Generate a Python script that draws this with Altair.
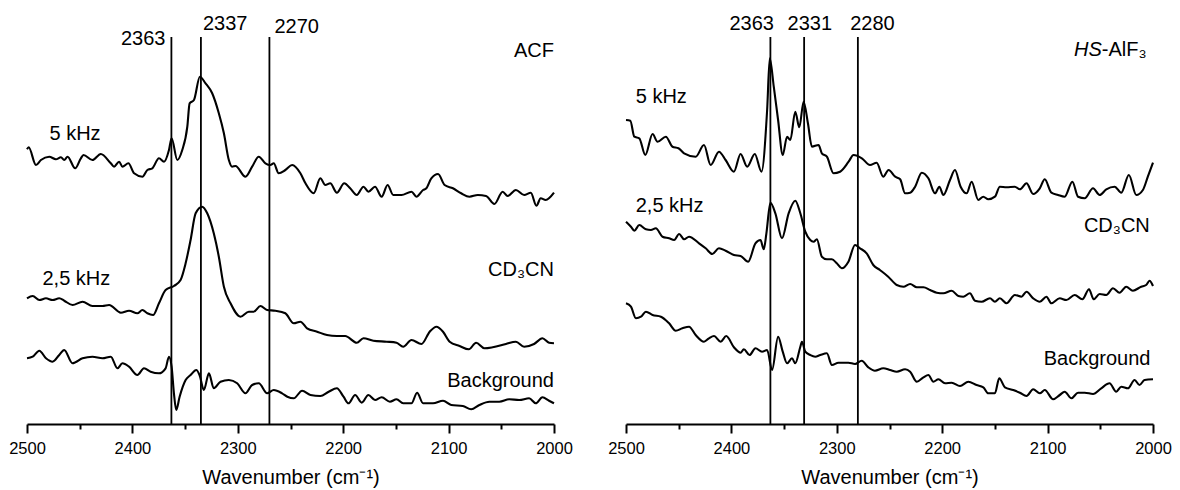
import altair as alt
import pandas as pd

FONT = "Liberation Sans"

# ---- data: (wavenumber cm-1, offset intensity a.u.) ----
ACF_5KHZ = [
    (2500, 274.7), (2498.4, 276.7), (2491.5, 259), (2486.8, 264), (2478.9, 267.3), (2472.6, 264.7),
    (2467.8, 266.7), (2464.7, 264), (2461.5, 267.3), (2454.3, 255.7), (2448.9, 265.7), (2446.4, 269),
    (2437.9, 264), (2430, 270), (2420.5, 260.7), (2417.4, 257.3), (2412.6, 262.3), (2409.5, 257.3),
    (2403.8, 260.7), (2398.4, 250.7), (2390.5, 247.3), (2385.8, 254), (2381.1, 255.7), (2374.8, 265.7),
    (2370, 262.3), (2365.3, 274), (2362.8, 285.7), (2357.4, 264), (2352.7, 274), (2347.9, 297.3),
    (2345.7, 320.7), (2341.6, 324), (2336, 347.3), (2330.6, 340.7), (2324.3, 330.7), (2318, 310.7),
    (2313.2, 290.7), (2308.5, 264), (2305.4, 257.3), (2302.2, 258), (2292.7, 247.3), (2286.4, 257.3),
    (2280.1, 267.3), (2273.8, 260.7), (2269.1, 259), (2265.9, 260.7), (2261.2, 250.7), (2254.9, 254),
    (2248.4, 259), (2240.6, 250.7), (2235.8, 240.7), (2228, 230.7), (2221.7, 245.7), (2217, 239),
    (2212.3, 240.7), (2206, 231.3), (2199, 240.7), (2193.4, 235.7), (2187.1, 229), (2180.8, 237.3),
    (2176.1, 232.3), (2169.8, 237.3), (2163.5, 227.3), (2157.9, 239), (2152.5, 229), (2144.7, 229),
    (2135.2, 232.3), (2130.5, 227.3), (2124.2, 234), (2121.1, 235.7), (2116.4, 245.7), (2110, 250),
    (2103.8, 239), (2095.9, 235.7), (2088.1, 230.7), (2080.2, 227.3), (2072.3, 229), (2064.5, 228),
    (2056.6, 220), (2048.7, 232.3), (2044, 228), (2036.2, 234), (2028.3, 229), (2022, 231.3),
    (2016.7, 218.3), (2012.6, 225.7), (2007.9, 224), (2000, 231.3),
]
ACF_25KHZ = [
    (2500, 125.7), (2494.6, 128), (2488.3, 124), (2482, 125.7), (2475.7, 124), (2469.4, 125.7),
    (2464.7, 123.3), (2456.8, 119), (2447.3, 122.3), (2437.9, 118), (2428.4, 118), (2422.1, 119),
    (2411, 111.3), (2403.2, 113.3), (2395.3, 110.7), (2390.5, 114), (2385.8, 110.7), (2380.4, 109),
    (2374.8, 120.7), (2368.5, 134), (2360.6, 138), (2354.3, 144), (2349.5, 160.7), (2344.8, 184),
    (2340, 210.7), (2333.8, 217.3), (2329, 210.7), (2322.8, 190.7), (2318, 167.3), (2313.2, 137.3),
    (2306.9, 120.7), (2297.5, 107.3), (2289.6, 112.3), (2284.9, 112.3), (2278.5, 118), (2272.2, 114),
    (2264.4, 113.3), (2254.9, 110.7), (2246.9, 100.7), (2240.6, 102.3), (2234.3, 95.7), (2224.8, 92.3),
    (2215.4, 89), (2206, 88), (2198.1, 88), (2187.1, 81.3), (2180.8, 85.7), (2171.4, 83.3),
    (2158.8, 82.3), (2149.4, 81.3), (2143.1, 77.3), (2135.2, 84), (2125.8, 80), (2117.9, 92.3),
    (2111.6, 97.3), (2105.3, 92.3), (2099, 82.3), (2089.6, 78), (2080.8, 74.7), (2073.9, 81.3),
    (2066, 75.7), (2058.2, 76.7), (2045.6, 80), (2036.2, 82.3), (2028.3, 77.3), (2018.9, 80),
    (2011, 85.7), (2004.7, 81.3), (2000, 80.7),
]
ACF_BG = [
    (2500, 65.7), (2494.6, 67.3), (2488.3, 73.3), (2482, 65.7), (2475.7, 62.3), (2469.4, 69),
    (2464.7, 74), (2456.8, 60.7), (2447.3, 65.7), (2437.9, 67.3), (2428.4, 65.7), (2420.5, 67.3),
    (2414.2, 55.7), (2409.5, 60.7), (2403.2, 57.3), (2395.3, 49), (2389, 55.7), (2382.7, 52.3),
    (2374.8, 50.7), (2368.5, 55.7), (2365.3, 67.3), (2362.8, 57.3), (2360.6, 30.7), (2358.4, 14),
    (2355.2, 27.3), (2349.5, 44), (2344.8, 49), (2339.4, 54), (2336.3, 49), (2332.2, 34),
    (2327.4, 50.7), (2322.8, 35.7), (2316.4, 42.3), (2308.5, 44), (2300.6, 40.7), (2292.7, 30.7),
    (2286.4, 39), (2280.1, 40.7), (2272.2, 30.7), (2265.9, 34), (2258, 30.7), (2253, 27.3),
    (2246.9, 25.7), (2239, 33.3), (2231.1, 29), (2221.7, 28), (2213.8, 32.3), (2206, 35.7),
    (2199.7, 27.3), (2195, 20.7), (2188.7, 29), (2182.4, 21.3), (2176.1, 29), (2169.8, 24),
    (2163.5, 26.7), (2155.7, 22.3), (2149.4, 24.7), (2143.1, 20.7), (2135.2, 20.7), (2129.9, 31.3),
    (2124.2, 20.7), (2114.8, 20.7), (2105.3, 23.3), (2097.5, 19), (2086.5, 18), (2078.6, 14.7),
    (2070.8, 19), (2061.3, 22.3), (2051.9, 22.3), (2042.5, 24.7), (2033, 24), (2023.6, 25.7),
    (2017.3, 20.7), (2011, 26.7), (2004.7, 23.3), (2000, 20.7),
]
HS_5KHZ = [
    (2500, 304), (2495.9, 303.3), (2492.1, 287.3), (2487.4, 285.7), (2481.7, 269), (2474.8, 290),
    (2470.1, 282.3), (2462.2, 287.3), (2455.9, 277.3), (2450.2, 275.7), (2444.9, 270.7), (2433.9, 267.3),
    (2426, 279), (2419.7, 259), (2411.8, 272.3), (2405.5, 264), (2397.6, 252.3), (2391.3, 270),
    (2385, 257.3), (2377.8, 270), (2371.5, 252.3), (2366.1, 314), (2363.6, 365.7), (2359.8, 337.3),
    (2355.7, 304), (2351.3, 269), (2347.2, 287.3), (2344.1, 284), (2339.4, 312.3), (2335.6, 296.7),
    (2331.5, 322.3), (2327.4, 300.7), (2323.6, 277.3), (2317.3, 279), (2314.2, 270.7), (2309.4, 267.3),
    (2303.1, 250.7), (2296.9, 252.3), (2288.8, 262.3), (2284.1, 269), (2276.2, 265.7), (2268.5, 259),
    (2262.2, 261.3), (2255.9, 247.3), (2250.9, 254), (2244.6, 247.3), (2239.9, 244.7), (2235.2, 230.7),
    (2230.4, 231.3), (2225.7, 237.3), (2219.4, 251.3), (2213.1, 245.7), (2206.8, 230.7), (2202.7, 237.3),
    (2198.9, 229), (2192.6, 244), (2187.9, 254), (2182.5, 237.3), (2176.8, 230.7), (2172.1, 242.3),
    (2165.8, 224), (2161, 227.3), (2156.3, 224.7), (2150, 227.3), (2145.3, 237.3), (2139, 236.7),
    (2131.1, 237.3), (2126.3, 234.7), (2120, 240.7), (2113.7, 230), (2107.4, 235.7), (2102.7, 244.7),
    (2096.4, 231.3), (2090.1, 229), (2083.8, 227.3), (2076.5, 242.3), (2071.1, 227.3), (2064.8, 225.7),
    (2056.9, 235.7), (2050.6, 229), (2044.3, 234.7), (2036.4, 237.3), (2030.1, 231.3), (2022.9, 249),
    (2015.9, 229), (2009.6, 234), (2004.9, 247.3), (2000, 261.3),
]
HS_25KHZ = [
    (2500, 202.3), (2495.3, 197.3), (2492.1, 193.3), (2487.4, 199), (2481.1, 194.7), (2476.4, 194),
    (2471.7, 195.7), (2465.4, 187.3), (2459.1, 185.7), (2454.3, 184), (2449.6, 190), (2444.9, 184.7),
    (2440.2, 187.3), (2430.7, 180.7), (2424.4, 175.7), (2418.1, 170), (2411.8, 175.7), (2405.5, 173.3),
    (2397.6, 169), (2391.3, 168), (2384.1, 162.3), (2377.2, 180.7), (2372.4, 184), (2369.3, 174.7),
    (2366.8, 190.7), (2363, 221.3), (2358.3, 210.7), (2352, 185.7), (2345.7, 210.7), (2339.4, 223.3),
    (2334.6, 210.7), (2329.9, 192.3), (2325.2, 184), (2322, 182.3), (2318.9, 184.7), (2314.2, 167.3),
    (2309.4, 164.7), (2304.7, 164.7), (2300, 160.7), (2295.3, 155.7), (2289, 162.3), (2282.7, 179),
    (2278, 175.7), (2271.7, 170.7), (2265.4, 159), (2259.1, 154), (2251.2, 147.3), (2243.1, 139),
    (2236.8, 137.3), (2230.4, 140), (2224.1, 136.7), (2217.8, 136.7), (2211.5, 134), (2205.2, 131.3),
    (2198.9, 130.7), (2191, 133.3), (2184.7, 128), (2180, 127.3), (2173.7, 130.7), (2168.9, 123.3),
    (2162.6, 122.3), (2154.7, 125.7), (2150, 122.3), (2145.3, 125.7), (2139, 120.7), (2131.1, 129),
    (2124.8, 127.3), (2120, 132.3), (2113.7, 125.7), (2107.4, 122.3), (2101.1, 127.3), (2096.4, 120.7),
    (2088.5, 125.7), (2082.2, 124), (2074.3, 129), (2067, 124.7), (2060.7, 134.7), (2056.3, 124.7),
    (2050.6, 130), (2044.3, 129), (2038, 135.7), (2031.7, 131.3), (2025.4, 137.3), (2019.1, 133.3),
    (2011.2, 137.3), (2006.5, 139), (2003.3, 143.3), (2000, 138),
]
HS_BG = [
    (2500, 120.7), (2495.3, 117.3), (2490.6, 105.7), (2485.8, 107.3), (2481.1, 112.3), (2474.8, 109),
    (2466.9, 107.3), (2459.1, 100.7), (2452.8, 93.3), (2446.5, 95.7), (2440.2, 97.3), (2433.9, 89),
    (2426, 82.3), (2421.3, 85.7), (2416.5, 88), (2410.2, 82.3), (2404.9, 88), (2397.6, 76.7),
    (2391.3, 71.3), (2388.2, 74.7), (2382.8, 69), (2377.2, 75.7), (2370.9, 72.3), (2366.1, 74),
    (2361.4, 54), (2355.7, 87.3), (2351.3, 72.3), (2347.2, 60.7), (2342.5, 65.7), (2339.4, 60.7),
    (2334.6, 77.3), (2333.1, 82.3), (2329.9, 72.3), (2325.2, 69), (2320.5, 67.3), (2315.7, 69),
    (2309.4, 70.7), (2304.7, 59), (2298.4, 61.3), (2289, 61.3), (2282.7, 60), (2276.4, 63.3),
    (2270.1, 56.7), (2263.8, 53.3), (2255.9, 55.7), (2249.4, 54), (2243.1, 52.3), (2235.2, 54.7),
    (2230.4, 52.3), (2224.1, 42.3), (2217.8, 46.7), (2213.1, 49), (2208.4, 42.3), (2203.6, 44.7),
    (2197.3, 40.7), (2191, 41.3), (2183.1, 38), (2175.2, 42.3), (2167.4, 39), (2161, 36.7),
    (2156.3, 30.7), (2150, 30.7), (2145.9, 45.7), (2140.5, 36.7), (2132.6, 34), (2126.3, 31.3),
    (2120, 28), (2113.7, 34.7), (2107.4, 30.7), (2102.7, 34), (2094.8, 24.7), (2088.5, 29),
    (2083.8, 32.3), (2077.4, 25.7), (2071.1, 31.3), (2064.8, 31.3), (2056.9, 30), (2049.1, 35.7),
    (2041.2, 40.7), (2034.9, 32.3), (2030.1, 37.3), (2023.8, 35.7), (2017.5, 44), (2012.8, 39),
    (2008, 44), (2000, 44.7),
]

ACF_PEAK_POS = [2363, 2335, 2270]
ACF_PEAK_LABELS = ["2363", "2337", "2270"]
HS_PEAK_POS = [2363, 2331, 2280]
HS_PEAK_LABELS = ["2363", "2331", "2280"]
RULE_TOP = 387

X_TICKS = list(range(2000, 2501, 50))
X_DOMAIN = [2500, 2000]
Y_DOMAIN = [0, 416]
W, H = 527, 416


def to_df(pairs, name):
    return pd.DataFrame({"wn": [p[0] for p in pairs], "inten": [p[1] for p in pairs], "series": name})


def txt(s, px, py, align="left", italic=False, size=20):
    return alt.Chart(pd.DataFrame({"t": [s]})).mark_text(
        align=align, baseline="alphabetic", fontSize=size, font=FONT,
        fontStyle="italic" if italic else "normal", color="black",
    ).encode(x=alt.value(px), y=alt.value(py), text="t:N")


xscale = alt.Scale(domain=X_DOMAIN, nice=False, zero=False)
yscale = alt.Scale(domain=Y_DOMAIN, nice=False, zero=False)
xaxis = alt.Axis(
    values=X_TICKS, format="d",
    labelExpr="datum.value % 100 == 0 ? datum.label : ''",
    tickSize={"condition": {"test": "datum.value % 100 === 0", "value": 9}, "value": 5},
    tickColor="black", tickWidth=2, domainColor="black", domainWidth=2,
    labelFont=FONT, labelFontSize=16.5, labelColor="black", labelFlush=False, labelPadding=7,
    title="Wavenumber (cm⁻¹)", titleFont=FONT, titleFontSize=20, titleFontWeight="normal",
    titleColor="black", titlePadding=11, grid=False,
)


def panel(series, peak_pos, peak_labels, annotations):
    df = pd.concat([to_df(p, n) for n, p in series], ignore_index=True)
    lines = alt.Chart(df).mark_line(color="black", strokeWidth=2.1, interpolate="monotone").encode(
        x=alt.X("wn:Q", scale=xscale, axis=xaxis),
        y=alt.Y("inten:Q", scale=yscale, axis=None),
        detail="series:N",
    )
    rdf = pd.DataFrame({"wn": peak_pos, "top": [RULE_TOP] * len(peak_pos), "lab": peak_labels})
    rules = alt.Chart(rdf).mark_rule(color="black", strokeWidth=1.8).encode(
        x="wn:Q", y="top:Q", y2=alt.datum(0),
    )
    return alt.layer(lines, rules, *annotations).properties(width=W, height=H)


left = panel(
    [("5 kHz", ACF_5KHZ), ("2,5 kHz", ACF_25KHZ), ("Background", ACF_BG)],
    ACF_PEAK_POS, ACF_PEAK_LABELS,
    [
        txt("2363", 138.5, 37, "right"),
        txt("2337", 176, 22, "left"),
        txt("2270", 247.5, 25, "left"),
        txt("ACF", 527, 48.7, "right"),
        txt("5 kHz", 22.5, 132),
        txt("2,5 kHz", 15.5, 277),
        txt("CD₃CN", 527, 268, "right"),
        txt("Background", 527, 378.7, "right"),
    ],
)
right = panel(
    [("5 kHz", HS_5KHZ), ("2,5 kHz", HS_25KHZ), ("Background", HS_BG)],
    HS_PEAK_POS, HS_PEAK_LABELS,
    [
        txt("2363", 125.7, 22, "center"),
        txt("2331", 183.8, 22, "center"),
        txt("2280", 246.4, 22, "center"),
        txt("HS", 475.8, 48, "right", italic=True),
        txt("-AlF₃", 475.8, 48, "left"),
        txt("5 kHz", 9.7, 95.3),
        txt("2,5 kHz", 9.7, 203.7),
        txt("CD₃CN", 523.8, 223.7, "right"),
        txt("Background", 524.5, 357, "right"),
    ],
)

chart = alt.hconcat(left, right, spacing=72, bounds="flush").properties(
    padding={"left": 0, "top": 0, "right": 0, "bottom": 2}
).configure(background="white").configure_view(stroke=None)

chart.save("out.html", embed_options={"renderer": "svg", "actions": False})
